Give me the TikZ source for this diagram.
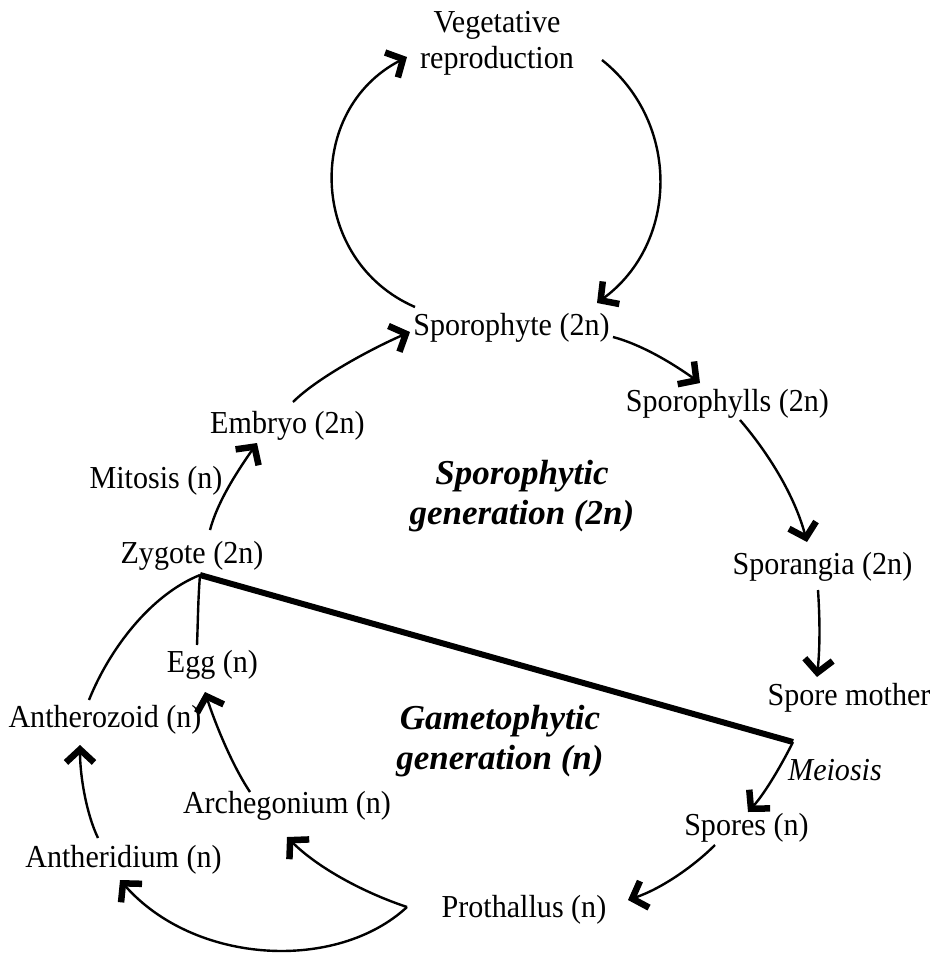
\documentclass[tikz,border=0pt]{standalone}
\usepackage{fontspec}
\setmainfont{Liberation Serif}[FakeStretch=0.94]
\newfontfamily\genfont{Liberation Serif}
\usetikzlibrary{arrows.meta}
\begin{document}
\begin{tikzpicture}[x=1pt,y=-1pt,
  lbl/.style={inner sep=0pt, anchor=base, font=\fontsize{32}{36}\selectfont},
  gen/.style={inner sep=0pt, align=center, font=\genfont\fontsize{35}{40}\selectfont\bfseries\itshape},
  conn/.style={line width=2.4pt},
  arr/.style={conn, -{Straight Barb[length=13pt,width=28pt,line width=6.5pt]}},
  thickline/.style={line width=6pt}
]
\useasboundingbox (0,0) rectangle (937,954);

% nodes
\node[inner sep=0pt, align=center, font=\fontsize{32}{36}\selectfont] (veg) at (497,43) {Vegetative\\reproduction};
\node[lbl] (spo) at (511.5,335) {Sporophyte (2n)};
\node[lbl] (emb) at (287.5,433) {Embryo (2n)};
\node[lbl] (mit) at (156,488) {Mitosis (n)};
\node[lbl] (zyg) at (192,563) {Zygote (2n)};
\node[lbl] (sph) at (727.5,411) {Sporophylls (2n)};
\node[lbl] (spg) at (822.5,574) {Sporangia (2n)};
\node[lbl] (spm) at (849,705) {Spore mother};
\node[lbl, font=\fontsize{32}{36}\selectfont\itshape] (mei) at (835,780) {Meiosis};
\node[lbl] (spr) at (746.5,835) {Spores (n)};
\node[lbl] (pro) at (524,917) {Prothallus (n)};
\node[lbl] (egg) at (212.5,672) {Egg (n)};
\node[lbl] (atz) at (105,727) {Antherozoid (n)};
\node[lbl] (arc) at (287,813) {Archegonium (n)};
\node[lbl] (atd) at (123.5,867) {Antheridium (n)};
\node[gen] (sgen) at (522,496) {Sporophytic\\generation (2n)};
\node[gen] (ggen) at (500,741) {Gametophytic\\generation (n)};

% junction points
\coordinate (zj) at ([shift={(8,12)}]zyg.base);
\coordinate (mc) at (793,742);
\coordinate (pj) at ([shift={(-117,-10)}]pro.base);

% vegetative loop
\draw[arr] ([shift={(-96.5,-28)}]spo.base) .. controls +(-106,-46) and +(-103,53) .. ([shift={(-90,14)}]veg.center);
\draw[arr] ([shift={(105,17)}]veg.center) .. controls +(79,63) and +(81.5,-59.7) .. ([shift={(85.5,-32)}]spo.base);

% sporophytic path
\draw[arr] ([shift={(5.5,-31)}]emb.base) .. controls +(25,-25) and +(-35,15) .. ([shift={(-101.5,-3)}]spo.base);
\draw[arr] ([shift={(18,-33)}]zyg.base) .. controls +(8,-30) and +(-18,26) .. ([shift={(-30.5,10)}]emb.base);
\draw[arr] ([shift={(101.5,2)}]spo.base) .. controls +(30,8) and +(-25,-18) .. ([shift={(-27.5,-28)}]sph.base);
\draw[arr] ([shift={(12.5,9)}]sph.base) .. controls +(30,35) and +(-12,-45) .. ([shift={(-15.5,-32)}]spg.base);
\draw[arr] ([shift={(-4.5,16)}]spg.base) .. controls +(2,30) and +(3,-30) .. ([shift={(-32,-28)}]spm.base);

% dividing line
\draw[thickline] (zj) -- (mc);

% gametophytic path
\draw[arr] (mc) .. controls +(-10,20) and +(18,-20) .. ([shift={(1.5,-23)}]spr.base);
\draw[arr] ([shift={(-31.5,10)}]spr.base) .. controls +(-20,20) and +(35,-12) .. ([shift={(104,-17)}]pro.base);
\draw[conn] (zj) .. controls +(-2,25) and +(1,-25) .. ([shift={(-15.5,-27)}]egg.base);
\draw[conn] (zj) .. controls +(-50,20) and +(20,-50) .. ([shift={(-16,-27)}]atz.base);
\draw[arr] ([shift={(-37,-21)}]arc.base) .. controls +(-20,-30) and +(8,25) .. ([shift={(-7.5,20)}]egg.base);
\draw[arr] ([shift={(-25.5,-29)}]atd.base) .. controls +(-12,-25) and +(0,30) .. ([shift={(-25,18)}]atz.base);
\draw[arr] (pj) .. controls +(-45,-15) and +(30,30) .. ([shift={(0,24)}]arc.base);
\draw[arr] (pj) .. controls +(-70,65) and +(75,85) .. ([shift={(-3.5,13)}]atd.base);
\end{tikzpicture}
\end{document}
